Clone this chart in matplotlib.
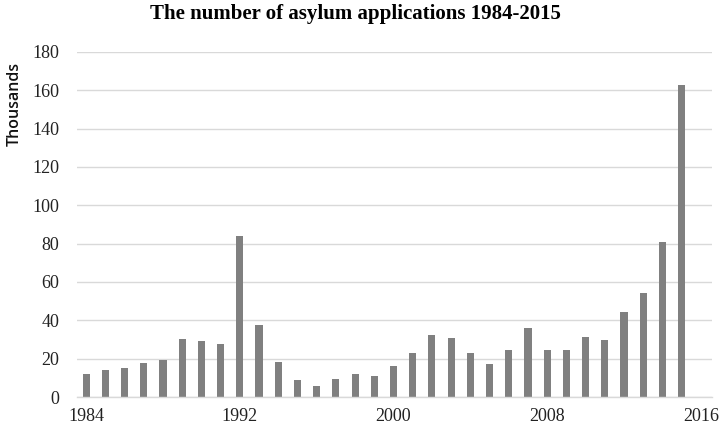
import matplotlib
matplotlib.use("Agg")
import matplotlib.pyplot as plt

# asylum applications per year, thousands
years = list(range(1984, 2016))
applications = [12, 14.3, 14.9, 17.8, 19.4, 30.1, 29.0, 27.4, 84.0, 37.6,
                18.4, 8.7, 5.8, 9.3, 12.2, 10.8, 16.3, 22.7, 32.3, 30.9,
                22.7, 17.1, 24.5, 36.0, 24.5, 24.5, 31.3, 29.5, 44.2, 54.2,
                81.0, 162.6]
x_ticks = [1984, 1992, 2000, 2008, 2016]
y_ticks = list(range(0, 181, 20))

serif = "Liberation Serif"

fig = plt.figure(figsize=(7.21, 4.32), dpi=100)
ax = fig.add_axes([0.107, 0.081, 0.881, 0.799])

ax.bar(years, applications, width=0.37, color="#808080", zorder=2)

ax.set_xlim(1983.53, 2016.6)
ax.set_ylim(0, 180)
ax.set_xticks(x_ticks)
ax.set_yticks(y_ticks)
ax.grid(axis="y", color="#d9d9d9", linewidth=1, zorder=0)

for s in ["top", "right", "left"]:
    ax.spines[s].set_visible(False)
ax.spines["bottom"].set_color("#d9d9d9")
ax.spines["bottom"].set_linewidth(1)
ax.tick_params(length=0, labelsize=13, colors="#222222")
ax.tick_params(axis="x", pad=8)
ax.tick_params(axis="y", pad=13)
for lbl in ax.get_xticklabels() + ax.get_yticklabels():
    lbl.set_fontfamily(serif)

ax.set_ylabel("Thousands", fontsize=11.5, family="Open Sans", fontweight="semibold",
              color="#111111")
ax.yaxis.set_label_coords(-0.085, 0.85)

fig.suptitle("The number of asylum applications 1984-2015", x=0.493, y=0.99,
             fontsize=15, fontweight="bold", family=serif)

fig.savefig("out.png", dpi=100)
